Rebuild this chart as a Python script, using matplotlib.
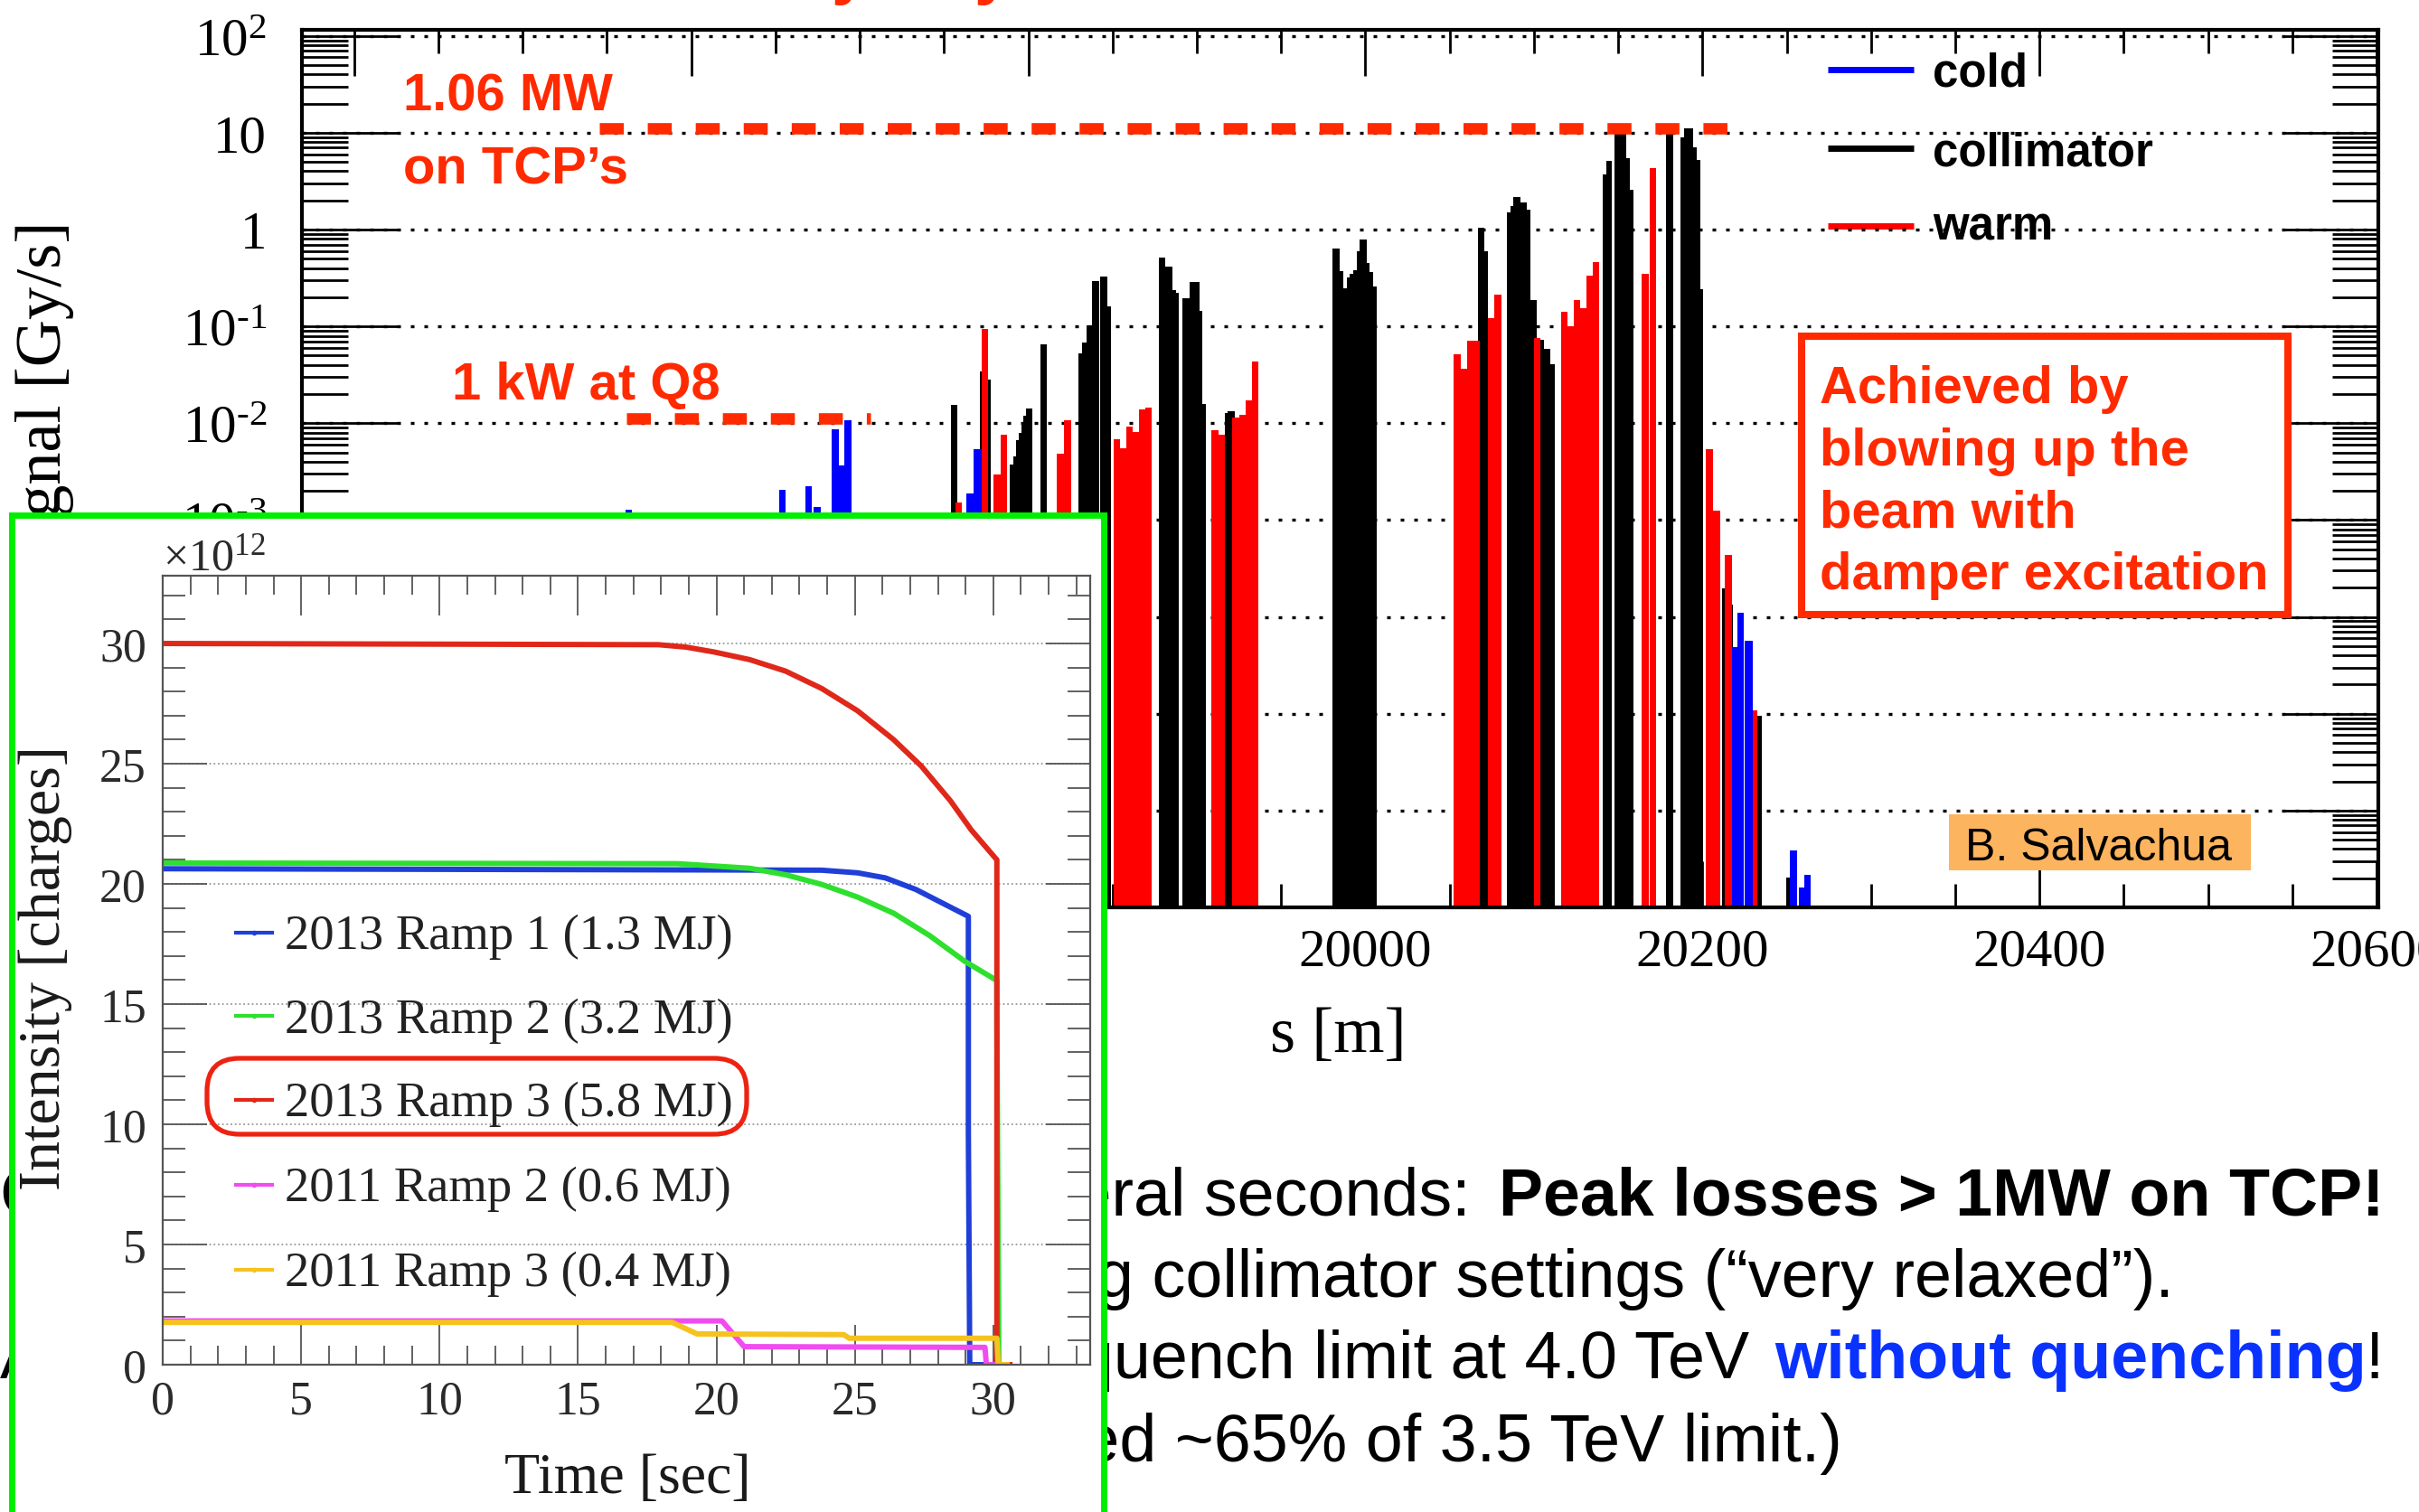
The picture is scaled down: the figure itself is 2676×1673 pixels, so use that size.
import numpy as np
import matplotlib
matplotlib.use("Agg")
import matplotlib.pyplot as plt
from matplotlib.patches import Rectangle, FancyBboxPatch
from matplotlib.transforms import Affine2D
from matplotlib.ticker import MultipleLocator, FixedLocator, LogLocator, FuncFormatter, NullFormatter

# ---------------- data: main chart (BLM signal vs s) ----------------
cold_left = [19560.8, 19652.0, 19667.5, 19672.5, 19683.4, 19687.4, 19690.9, 19763.4, 19767.6,
             20217.6, 20220.7, 20225.1, 20251.6, 20257.3, 20260.5]
cold_right = [19564.9, 19655.9, 19671.6, 19676.7, 19687.4, 19690.9, 19695.1, 19767.6, 19772.2,
              20220.7, 20224.7, 20229.6, 20255.9, 20260.5, 20264.4]
cold_val = [1.28e-3, 2.04e-3, 2.24e-3, 1.36e-3, 8.6e-3, 3.66e-3, 1.07e-2, 1.87e-3, 5.43e-3,
            4.9e-5, 1.1e-4, 5.7e-5, 3.9e-7, 1.59e-7, 2.15e-7]

coll_left = [19753.9, 19771.4, 19776.2, 19788.8, 19790.9, 19792.7, 19794.5, 19795.9, 19797.2, 19798.6,
             19807.0, 19829.9, 19832.0, 19834.4, 19837.9, 19842.8, 19846.9, 19877.3, 19881.4, 19885.4,
             19887.7, 19891.3, 19895.5, 19901.5, 19903.2, 19916.6, 19918.4, 19980.6, 19984.6, 19986.8,
             19989.1, 19990.8, 19992.6, 19994.8, 19996.7, 20000.7, 20002.5, 20004.6, 20066.8, 20070.8,
             20083.9, 20086.0, 20087.9, 20091.9, 20095.8, 20097.8, 20104.0, 20105.8, 20109.8, 20140.7,
             20142.9, 20147.8, 20155.0, 20157.1, 20178.6, 20187.0, 20189.3, 20194.7, 20196.5, 20198.7,
             20211.7, 20216.0, 20232.6, 20249.8]
coll_right = [19758.0, 19776.2, 19777.7, 19790.9, 19792.7, 19794.5, 19795.9, 19797.2, 19798.6, 19802.5,
              19810.8, 19832.0, 19834.4, 19837.9, 19841.9, 19846.9, 19848.9, 19881.4, 19885.4, 19887.7,
              19889.4, 19895.5, 19901.5, 19903.2, 19905.5, 19918.4, 19922.5, 19984.6, 19986.8, 19989.1,
              19990.8, 19992.6, 19994.8, 19996.7, 20000.7, 20002.5, 20004.6, 20006.6, 20070.8, 20072.6,
              20086.0, 20087.9, 20091.9, 20095.8, 20097.8, 20101.7, 20105.8, 20109.8, 20112.4, 20142.9,
              20146.4, 20155.0, 20157.1, 20159.3, 20182.6, 20189.3, 20194.7, 20196.5, 20198.7, 20200.6,
              20213.1, 20217.8, 20235.3, 20251.6]
coll_val = [0.0155, 0.0345, 0.0282, 3.74e-3, 4.57e-3, 6.73e-3, 7.94e-3, 9.6e-3, 0.0119, 0.0141,
            0.0648, 0.0523, 0.068, 0.1025, 0.292, 0.33, 0.161, 0.514, 0.414, 0.237,
            0.221, 0.197, 0.285, 0.145, 0.0157, 0.0127, 0.0134, 0.637, 0.372, 0.247,
            0.318, 0.346, 0.38, 0.593, 0.789, 0.455, 0.364, 0.256, 1.04, 0.597,
            1.51, 1.74, 2.18, 1.89, 1.6, 0.186, 0.0722, 0.0582, 0.0406, 3.71,
            5.12, 10.6, 5.5, 2.57, 10.0, 8.9, 11.2, 7.0, 5.2, 0.242,
            1.96e-4, 1.34e-4, 9.5e-6, 2.05e-7]

warm_left = [19756.6, 19772.2, 19779.1, 19783.4, 19816.9, 19821.0, 19850.5, 19854.4, 19858.0, 19862.1,
             19865.7, 19869.3, 19908.6, 19912.7, 19921.1, 19925.2, 19928.8, 19932.7, 20052.5, 20056.6,
             20060.6, 20064.5, 20072.6, 20076.7, 20099.9, 20116.0, 20119.9, 20123.5, 20127.6, 20131.2,
             20135.1, 20163.8, 20168.8, 20201.9, 20206.0, 20213.1, 20228.7]
warm_right = [19760.5, 19776.2, 19783.4, 19787.5, 19821.0, 19825.4, 19854.4, 19858.0, 19862.1, 19865.7,
              19869.3, 19873.2, 19912.7, 19916.6, 19925.2, 19928.8, 19932.7, 19936.6, 20056.6, 20060.6,
              20064.5, 20068.1, 20076.7, 20080.8, 20104.0, 20119.9, 20123.5, 20127.6, 20131.2, 20135.1,
              20138.9, 20167.9, 20172.7, 20206.0, 20210.5, 20217.6, 20232.6]
warm_val = [1.53e-3, 0.094, 2.96e-3, 7.56e-3, 4.81e-3, 0.0107, 6.9e-3, 5.55e-3, 9.3e-3, 8.12e-3,
            0.0138, 0.0146, 8.42e-3, 7.55e-3, 0.0114, 0.0122, 0.0172, 0.0434, 0.0512, 0.0363,
            0.0716, 0.0707, 0.121, 0.214, 0.0759, 0.1425, 0.0996, 0.186, 0.153, 0.334,
            0.461, 0.349, 4.28, 5.4e-3, 1.26e-3, 4.37e-4, 1.09e-5]

# reference levels (dashed annotation lines)
mw_level, mw_s0, mw_s1 = 11.0, 19545.2, 20217.6
kw_level, kw_s0, kw_s1 = 0.0113, 19561.5, 19706.3

legend_names = ["cold", "collimator", "warm"]

# ---------------- data: inset (beam intensity vs time) ----------------
t_r1 = [0, 23.8, 25.1, 26.1, 27.2, 28.2, 29.1, 29.1, 29.15, 30.0]
i_r1 = [20.63, 20.57, 20.46, 20.25, 19.77, 19.18, 18.65, 9.7, 0.0, 0.0]
t_r2 = [0, 18.6, 21.2, 22.5, 23.8, 25.1, 26.4, 27.7, 28.97, 30.13, 30.13, 30.2]
i_r2 = [20.87, 20.84, 20.65, 20.38, 19.98, 19.45, 18.78, 17.85, 16.78, 15.98, 14.5, 0.0]
t_r3 = [0, 17.9, 18.9, 19.9, 21.2, 22.5, 23.8, 25.1, 26.4, 27.4, 28.45, 29.2, 30.13, 30.13, 30.6]
i_r3 = [30.0, 29.95, 29.85, 29.65, 29.33, 28.85, 28.13, 27.2, 26.0, 24.9, 23.46, 22.25, 21.0, 0.0, 0.0]
t_o2 = [0, 20.2, 21.0, 29.7, 29.75, 30.1]
i_o2 = [1.82, 1.82, 0.75, 0.72, 0.0, 0.0]
t_o3 = [0, 18.4, 19.3, 24.6, 24.8, 30.13, 30.18, 30.5]
i_o3 = [1.76, 1.76, 1.28, 1.25, 1.1, 1.1, 0.0, 0.0]
inset_labels = ["2013 Ramp 1 (1.3 MJ)", "2013 Ramp 2 (3.2 MJ)", "2013 Ramp 3 (5.8 MJ)",
                "2011 Ramp 2 (0.6 MJ)", "2011 Ramp 3 (0.4 MJ)"]

# ---------------- figure ----------------
W, H, DPI = 2676, 1674, 100
plt.rcParams["font.family"] = ["Liberation Serif", "DejaVu Serif"]
plt.rcParams["mathtext.fontset"] = "custom"
plt.rcParams["mathtext.rm"] = "Liberation Serif"
plt.rcParams["mathtext.it"] = "Liberation Serif:italic"
plt.rcParams["mathtext.bf"] = "Liberation Serif:bold"

fig = plt.figure(figsize=(W / DPI, H / DPI), dpi=DPI)
fig.patch.set_facecolor("white")
PX = Affine2D().scale(1.0 / W, -1.0 / H).translate(0, 1) + fig.transFigure

ORANGE = "#ff2a00"
SANS = "Liberation Sans"

# background slide texts (under the inset)
bg = fig.add_axes([0, 0, 1, 1], zorder=-1)
bg.set_axis_off()
bg.text(67, 245, "Signal [Gy/s]", transform=PX, rotation=90, rotation_mode="anchor",
        ha="right", va="baseline", fontsize=52)
bg.text(1480, 1164, "s [m]", transform=PX, ha="center", va="baseline", fontsize=52)
for xx in (919, 1077):
    bg.text(xx, -9.5, "y", transform=PX, ha="left", va="baseline", fontsize=53,
            family=SANS, weight="bold", color=ORANGE)
BF = 53
bg.text(0, 1345, "Controlled losses", transform=PX, ha="left", va="baseline", fontsize=BF, family=SANS)
bg.text(1627, 1345, "over several seconds:", transform=PX, ha="right", va="baseline", fontsize=BF, family=SANS)
bg.text(2638, 1345, "Peak losses > 1MW on TCP!", transform=PX, ha="right", va="baseline",
        fontsize=BF, family=SANS, weight="bold")
bg.text(2405, 1435, "using collimator settings (\u201cvery relaxed\u201d).", transform=PX, ha="right",
        va="baseline", fontsize=BF, family=SANS)
bg.text(0, 1525, "Achieved", transform=PX, ha="left", va="baseline", fontsize=BF, family=SANS)
bg.text(1935, 1525, "the quench limit at 4.0 TeV", transform=PX, ha="right", va="baseline",
        fontsize=BF, family=SANS)
bg.text(2618, 1525, "without quenching", transform=PX, ha="right", va="baseline", fontsize=BF,
        family=SANS, weight="bold", color="#0a32ff")
bg.text(2637, 1525, "!", transform=PX, ha="right", va="baseline", fontsize=BF, family=SANS)
bg.text(2038, 1617, "(2011: reached ~65% of 3.5 TeV limit.)", transform=PX, ha="right",
        va="baseline", fontsize=BF, family=SANS)

# ---------------- main axes ----------------
YMIN, YMAX = 1e-7, 10 ** 2.0625
ax = fig.add_axes([334 / W, 1 - 1005 / H, (2631 - 334) / W, (1005 - 34) / H], zorder=0)
ax.set_yscale("log")

for k in range(-6, 3):
    ax.axhline(10.0 ** k, color="black", lw=2.4, ls=(0, (1.2, 3.3)), zorder=1.5)

for L, R, V, col, z in [(coll_left, coll_right, coll_val, "black", 2.0),
                        (warm_left, warm_right, warm_val, "#ff0000", 2.1),
                        (cold_left, cold_right, cold_val, "#0000ff", 2.2)]:
    L = np.asarray(L); R = np.asarray(R); V = np.asarray(V)
    ax.bar(L, V - YMIN, width=R - L, bottom=YMIN, align="edge", color=col, linewidth=0, zorder=z)

dash = (0, (2.1, 2.1))
ax.plot([mw_s0, mw_s1], [mw_level, mw_level], color=ORANGE, lw=9.1, ls=dash,
        dash_capstyle="butt", zorder=5)
ax.plot([kw_s0, kw_s1], [kw_level, kw_level], color=ORANGE, lw=9.1, ls=dash,
        dash_capstyle="butt", zorder=5)

AF = 41.8
ax.text(446, 122.5, "1.06 MW", transform=PX, fontsize=AF, family=SANS, weight="bold", color=ORANGE,
        ha="left", va="baseline", zorder=6)
ax.text(446, 203, "on TCP\u2019s", transform=PX, fontsize=AF, family=SANS, weight="bold", color=ORANGE,
        ha="left", va="baseline", zorder=6)
ax.text(500, 442, "1 kW at Q8", transform=PX, fontsize=AF, family=SANS, weight="bold", color=ORANGE,
        ha="left", va="baseline", zorder=6)

# legend
for name, col, ly, by in zip(legend_names, ["#0000ff", "black", "#ff0000"],
                             [77.7, 164.6, 250.7], [95.7, 183, 266]):
    ax.plot([2022, 2117], [ly, ly], transform=PX, color=col, lw=5, solid_capstyle="butt",
            clip_on=False, zorder=1)
    ax.text(2138, by, name, transform=PX, fontsize=36.7, family=SANS, weight="bold",
            ha="left", va="baseline", zorder=1)

# "Achieved by" box
ax.add_patch(Rectangle((1993, 373), 2531 - 1993, 681 - 373, transform=PX, facecolor="white",
                       edgecolor=ORANGE, lw=5.8, zorder=3, clip_on=False))
for txt, by in zip(["Achieved by", "blowing up the", "beam with", "damper excitation"],
                   [446, 515, 584, 652]):
    ax.text(2013, by, txt, transform=PX, fontsize=AF, family=SANS, weight="bold", color=ORANGE,
            ha="left", va="baseline", zorder=3.1)

# author box
ax.add_patch(Rectangle((2155.5, 902.3), 334.2, 61.3, transform=PX, facecolor="#fcb45e",
                       edgecolor="none", zorder=2.3, clip_on=False))
ax.text(2174, 952, "B. Salvachua", transform=PX, fontsize=36, family=SANS, ha="left",
        va="baseline", zorder=2.4)

ax.set_xlim(19369, 20601)
ax.set_ylim(YMIN, YMAX)
ax.xaxis.set_major_locator(MultipleLocator(200))
ax.xaxis.set_minor_locator(MultipleLocator(50))
ax.xaxis.set_major_formatter(FuncFormatter(lambda v, p: "%d" % round(v)))
ax.yaxis.set_major_locator(FixedLocator([10.0 ** k for k in range(-7, 3)]))
ax.yaxis.set_minor_locator(LogLocator(base=10, subs=np.arange(2, 10), numticks=100))
ax.yaxis.set_minor_formatter(NullFormatter())


def ylab(v, pos):
    k = int(round(np.log10(v)))
    if k == 0:
        return "1"
    if k == 1:
        return "10"
    if k < 0:
        return r"$10^{\text{-}%d}$" % (-k)
    return r"$10^{%d}$" % k


ax.yaxis.set_major_formatter(FuncFormatter(ylab))
ax.tick_params(axis="both", which="both", direction="in", top=True, right=True, width=2)
ax.tick_params(axis="x", which="major", length=37, labelsize=42.5, pad=16)
ax.tick_params(axis="x", which="minor", length=18.5)
ax.tick_params(axis="y", which="major", length=76, labelsize=42.5, pad=28)
ax.tick_params(axis="y", which="minor", length=37)
for sp in ax.spines.values():
    sp.set_linewidth(3)

# ---------------- inset panel ----------------
pan = fig.add_axes([0, 0, 1, 1], zorder=1)
pan.set_axis_off()
pan.add_patch(Rectangle((12.5, 571), 1208.5, 1300, transform=PX, facecolor="white",
                        edgecolor="#00ee00", lw=5, clip_on=False))

ins = fig.add_axes([180 / W, 1 - 1511 / H, (1206 - 180) / W, (1511 - 638) / H], zorder=2)
for v in range(5, 31, 5):
    ins.axhline(v, color="#9a9a9a", lw=1.3, ls=(0, (1, 1.6)), zorder=0.5)

LW = 4.3
ins.plot(t_r1, i_r1, color="#1f3fd8", lw=LW, zorder=2)
ins.plot(t_r2, i_r2, color="#2ee02e", lw=LW, zorder=2.1)
ins.plot(t_r3, i_r3, color="#e0281a", lw=LW, zorder=2.2)
ins.plot(t_o2, i_o2, color="#f04cf0", lw=LW, zorder=2.3)
ins.plot(t_o3, i_o3, color="#f5c21e", lw=LW, zorder=2.4)

ins.set_xlim(0, 33.5)
ins.set_ylim(0, 32.82)
ins.xaxis.set_major_locator(MultipleLocator(5))
ins.xaxis.set_minor_locator(MultipleLocator(1))
ins.yaxis.set_major_locator(MultipleLocator(5))
ins.yaxis.set_minor_locator(MultipleLocator(1))
ins.tick_params(axis="both", which="both", direction="in", top=True, right=True, width=1.3,
                color="#555555", labelcolor="#2a2a2a")
ins.tick_params(axis="x", which="major", length=32, labelsize=37.4, pad=12)
ins.tick_params(axis="x", which="minor", length=15)
ins.tick_params(axis="y", which="major", length=35, labelsize=37.4, pad=13)
ins.tick_params(axis="y", which="minor", length=18)
for sp in ins.spines.values():
    sp.set_linewidth(1.6)
    sp.set_color("#555555")

ins.text(180, 631, r"$\times10^{12}$", transform=PX, fontsize=36, color="#2a2a2a",
         ha="left", va="baseline")
ins.text(694, 1652, "Time [sec]", transform=PX, fontsize=46, color="#1a1a1a",
         ha="center", va="baseline")
ins.text(50, 1071, "Intensity [charges]", transform=PX, fontsize=47.5, color="#1a1a1a",
         rotation=90, ha="center", va="center")

leg_cols = ["#1f3fd8", "#2ee02e", "#e0281a", "#f04cf0", "#f5c21e"]
for lab, col, by in zip(inset_labels, leg_cols, [1050, 1142.6, 1235, 1329.5, 1423]):
    ins.plot([261, 300.5], [by - 17.5, by - 17.5], transform=PX, color=col, lw=3,
             clip_on=False, zorder=3)
    ins.plot([281], [by - 17.5], transform=PX, color=col, marker="o", ms=3,
             clip_on=False, zorder=3)
    ins.text(315, by, lab, transform=PX, fontsize=39.3, color="#222222", ha="left",
             va="baseline", zorder=3)
ins.add_patch(FancyBboxPatch((229, 1172), 597, 84, boxstyle="round,pad=0,rounding_size=36",
                             transform=PX, facecolor="none", edgecolor="#ee2211", lw=3.8,
                             clip_on=False, zorder=5))

fig.savefig("out.png", dpi=DPI)
